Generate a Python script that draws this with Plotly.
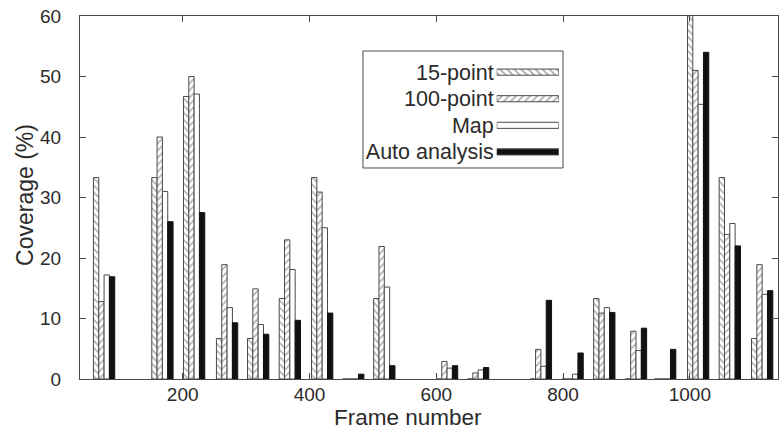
import plotly.graph_objects as go

# ---- data ----
frames = [76, 168, 218, 270, 319, 369, 420, 469, 518, 617, 666, 765, 815, 865, 915, 961, 1013, 1063, 1114]
series_names = ["15-point", "100-point", "Map", "Auto analysis"]
pt15 = [33.3, 33.3, 46.7, 6.7, 6.7, 13.3, 33.3, 0, 13.3, 0, 0, 0, 0, 13.3, 0, 0, 66.7, 33.3, 6.7]
pt100 = [12.8, 40.0, 50.0, 18.9, 14.9, 23.0, 30.9, 0, 21.9, 2.9, 1.0, 4.9, 0, 10.9, 7.9, 0, 51.0, 23.9, 18.9]
mapv = [17.2, 31.0, 47.1, 11.8, 9.0, 18.1, 25.0, 0, 15.2, 1.8, 1.5, 2.1, 0.8, 11.8, 4.7, 0, 45.4, 25.7, 14.0]
auto = [16.9, 26.0, 27.5, 9.3, 7.4, 9.7, 10.9, 0.8, 2.2, 2.2, 1.9, 13.0, 4.3, 11.0, 8.4, 4.9, 54.0, 22.0, 14.6]
x_ticks = [200, 400, 600, 800, 1000]
y_ticks = [0, 10, 20, 30, 40, 50, 60]
x_title = "Frame number"
y_title = "Coverage (%)"

series_values = [pt15, pt100, mapv, auto]

# ---- styles ----
shapes = ["\\", "/", "", ""]
fills = ["white", "white", "white", "#111111"]
edge = "#4a4a4a"
hatch = "#5a5a5a"
FONT = "Liberation Sans"
TXT = "#2b2b2b"
bar_w = 8.4

fig = go.Figure()
for i, (name, vals) in enumerate(zip(series_names, series_values)):
    fig.add_trace(go.Bar(
        x=frames, y=vals, name=name,
        width=bar_w, offset=-2 * bar_w + i * bar_w,
        marker=dict(color=fills[i], line=dict(color=edge if i < 3 else "#111111", width=1),
                    pattern=dict(shape=shapes[i], fgcolor=hatch, bgcolor=fills[i],
                                 size=5, solidity=0.3)),
        showlegend=False,
    ))

# custom legend (swatches on the right of right-aligned labels)
fig.add_trace(go.Bar(
    y=series_names, x=[1, 1, 1, 1], orientation="h", xaxis="x2", yaxis="y2",
    width=0.23, showlegend=False, hoverinfo="skip",
    marker=dict(color=fills, line=dict(color=edge, width=1),
                pattern=dict(shape=shapes, fgcolor=hatch, bgcolor=fills, size=5, solidity=0.3)),
))

fig.update_layout(
    width=781, height=430,
    margin=dict(l=80, r=3, t=16, b=51, autoexpand=False),
    paper_bgcolor="white", plot_bgcolor="white",
    barmode="overlay",
    font=dict(family=FONT, size=19, color=TXT),
    xaxis=dict(range=[38, 1139], tickvals=x_ticks, ticks="inside", ticklen=6,
               tickcolor=edge, mirror="ticks", showline=True, linecolor=edge, linewidth=1,
               showgrid=False, zeroline=False, ticklabelstandoff=-2, automargin=False),
    yaxis=dict(range=[0, 60], tickvals=y_ticks, ticks="inside", ticklen=6,
               tickcolor=edge, mirror="ticks", showline=True, linecolor=edge, linewidth=1,
               showgrid=False, zeroline=False, ticklabelstandoff=14, automargin=False),
    xaxis2=dict(domain=[0.597, 0.686], anchor="y2", range=[0, 1], visible=False),
    yaxis2=dict(domain=[0.589, 0.882], anchor="x2", autorange="reversed", automargin=False,
                showline=False, ticks="", showgrid=False, zeroline=False,
                ticklabelstandoff=2, tickfont=dict(size=21.5, color=TXT)),
    shapes=[dict(type="rect", xref="paper", yref="paper",
                 x0=0.4054, x1=0.692, y0=0.5813, y1=0.9036,
                 line=dict(color=edge, width=1), fillcolor="rgba(0,0,0,0)", layer="below")],
    annotations=[
        dict(text=x_title, xref="paper", yref="paper", x=0.47, y=-0.1047,
             xanchor="center", yanchor="middle", showarrow=False, font=dict(size=22.5, color=TXT)),
        dict(text=y_title, xref="paper", yref="paper", x=-0.0788, y=0.507, textangle=-90,
             xanchor="center", yanchor="middle", showarrow=False, font=dict(size=23, color=TXT)),
    ],
)

fig.write_html("out.html", config={"displayModeBar": False},
               post_script="document.body.style.margin='0';")
